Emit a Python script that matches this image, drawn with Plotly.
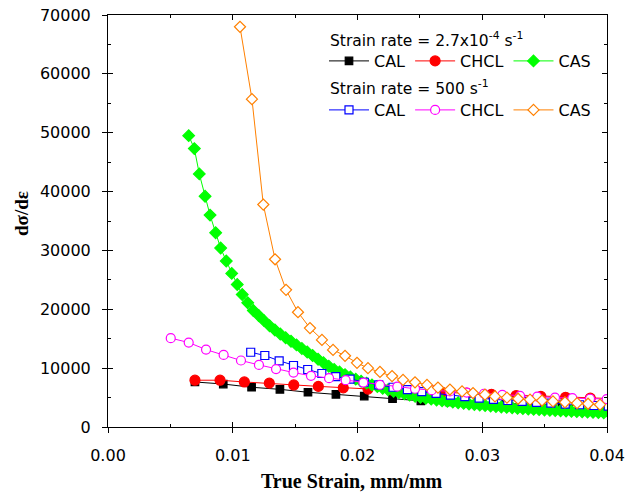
import plotly.graph_objects as go

# ---- Strain rate = 2.7x10^-4 s^-1 ----
cal_qs_strain = [0.00697, 0.00924, 0.01151, 0.01378, 0.01603, 0.01827, 0.02054, 0.02281,
                 0.02508, 0.02735, 0.02962, 0.03189, 0.03416, 0.03643, 0.03870, 0.04097]
cal_qs_modulus = [7650, 7300, 6750, 6400, 5900, 5550, 5250, 4800,
                  4450, 4250, 4100, 4000, 3900, 3750, 3550, 3450]

chcl_qs_strain = [0.00697, 0.00898, 0.01093, 0.01293, 0.01489, 0.01686, 0.01886, 0.02084,
                  0.02282, 0.02480, 0.02678, 0.02876, 0.03074, 0.03272, 0.03470, 0.03668,
                  0.03866, 0.04064]
chcl_qs_modulus = [7950, 7950, 7650, 7450, 7150, 6900, 6650, 6450,
                   6250, 6050, 5900, 5750, 5550, 5350, 5200, 5050,
                   4900, 4800]

cas_qs_strain = [0.00647, 0.00692, 0.00732, 0.00778, 0.00818, 0.00863, 0.00903, 0.00948,
                 0.00992, 0.01036, 0.01076, 0.01120, 0.01165, 0.01208, 0.01251, 0.01295,
                 0.01338, 0.01381, 0.01424, 0.01467, 0.01511, 0.01554, 0.01597, 0.01640,
                 0.01684, 0.01727, 0.01770, 0.01813, 0.01856, 0.01900, 0.01943, 0.01986,
                 0.02029, 0.02073, 0.02116, 0.02159, 0.02202, 0.02245, 0.02289, 0.02332,
                 0.02375, 0.02418, 0.02462, 0.02505, 0.02548, 0.02591, 0.02634, 0.02678,
                 0.02721, 0.02764, 0.02807, 0.02851, 0.02894, 0.02937, 0.02980, 0.03023,
                 0.03067, 0.03110, 0.03153, 0.03196, 0.03240, 0.03283, 0.03326, 0.03369,
                 0.03412, 0.03456, 0.03499, 0.03542, 0.03585, 0.03628, 0.03672, 0.03715,
                 0.03758, 0.03801, 0.03844, 0.03888, 0.03931, 0.03974, 0.04017]
cas_qs_modulus = [49500, 47300, 43000, 39200, 36000, 33000, 30400, 28200,
                  26100, 24200, 22500, 21100, 19800, 18940, 18070, 17200,
                  16490, 15800, 15160, 14560, 13950, 13340, 12740, 12140,
                  11520, 10920, 10320, 9770, 9340, 8900, 8510, 8130,
                  7780, 7450, 7150, 6870, 6590, 6330, 6070, 5840,
                  5630, 5420, 5220, 5030, 4880, 4730, 4600, 4470,
                  4350, 4240, 4130, 4020, 3920, 3830, 3740, 3650,
                  3570, 3480, 3400, 3330, 3260, 3190, 3120, 3060,
                  3010, 2950, 2900, 2850, 2800, 2750, 2710, 2665,
                  2620, 2580, 2540, 2500, 2460, 2420, 2390]

# ---- Strain rate = 500 s^-1 ----
cal_dyn_strain = [0.01144, 0.01257, 0.01372, 0.01487, 0.01601, 0.01714, 0.01826, 0.01940,
                  0.02055, 0.02170, 0.02285, 0.02400, 0.02515, 0.02630, 0.02745, 0.02860,
                  0.02975, 0.03090, 0.03205, 0.03320, 0.03435, 0.03550, 0.03665, 0.03780,
                  0.03895, 0.04010]
cal_dyn_modulus = [12700, 12150, 11250, 10450, 9770, 9090, 8550, 8150,
                   7600, 7150, 6750, 6350, 6000, 5700, 5400, 5150,
                   4900, 4700, 4500, 4350, 4200, 4050, 3900, 3780,
                   3650, 3550]

chcl_dyn_strain = [0.00503, 0.00647, 0.00786, 0.00927, 0.01066, 0.01210, 0.01347, 0.01487,
                   0.01627, 0.01772, 0.01905, 0.02047, 0.02180, 0.02319, 0.02461, 0.02595,
                   0.02741, 0.02875, 0.03014, 0.03161, 0.03303, 0.03441, 0.03583, 0.03722,
                   0.03864, 0.03998]
chcl_dyn_modulus = [15100, 14350, 13150, 12250, 11300, 10550, 9850, 9250,
                    8700, 8300, 7950, 7550, 7150, 6850, 6500, 6250,
                    6050, 5850, 5650, 5450, 5300, 5150, 5000, 4900,
                    4800, 4750]

cas_dyn_strain = [0.01058, 0.01154, 0.01245, 0.01339, 0.01427, 0.01523, 0.01619, 0.01715,
                  0.01804, 0.01900, 0.01996, 0.02084, 0.02180, 0.02277, 0.02365, 0.02461,
                  0.02557, 0.02645, 0.02741, 0.02838, 0.02926, 0.03022, 0.03102, 0.03198,
                  0.03287, 0.03383, 0.03479, 0.03567, 0.03663, 0.03760, 0.03848, 0.03944]
cas_dyn_modulus = [68000, 55700, 37800, 28500, 23300, 19500, 16800, 14800,
                   13100, 12100, 10900, 10000, 9350, 8650, 8000, 7600,
                   7150, 6700, 6370, 6050, 5770, 5500, 5200, 4980,
                   4800, 4650, 4500, 4350, 4200, 4050, 3950, 3800]

x_tickvals = [0.00, 0.01, 0.02, 0.03, 0.04]
y_tickvals = [0, 10000, 20000, 30000, 40000, 50000, 60000, 70000]

header_qs = "Strain rate = 2.7x10<sup>-4</sup> s<sup>-1</sup>"
header_dyn = "Strain rate = 500 s<sup>-1</sup>"

TICK_FONT = dict(family="DejaVu Sans", size=16, color="black")
LEGEND_FONT = dict(family="DejaVu Sans", size=16, color="black")
SERIF_BOLD = "Liberation Serif"

# plot-area geometry in pixels (used to place paper-referenced text)
PLOT_L, PLOT_R, PLOT_T, PLOT_B = 108, 607, 15, 427


def px_x(px):
    return (px - PLOT_L) / (PLOT_R - PLOT_L)


def px_y(py):
    return (PLOT_B - py) / (PLOT_B - PLOT_T)


fig = go.Figure()


def add_series(name, x, y, color, symbol, size, fill, legend):
    fig.add_trace(go.Scatter(
        x=x, y=y, name=name, mode="lines+markers", legend=legend,
        line=dict(color=color, width=1),
        marker=dict(symbol=symbol, size=size, color=fill,
                    line=dict(color=color, width=1.2)),
    ))


add_series("CAL", cal_qs_strain, cal_qs_modulus, "#000000", "square", 7.5, "#000000", "legend")
add_series("CHCL", chcl_qs_strain, chcl_qs_modulus, "#FF0000", "circle", 10, "#FF0000", "legend")
add_series("CAS", cas_qs_strain, cas_qs_modulus, "#00FF00", "diamond", 9, "#00FF00", "legend")
add_series("CAL", cal_dyn_strain, cal_dyn_modulus, "#0000FF", "square", 8, "#FFFFFF", "legend2")
add_series("CHCL", chcl_dyn_strain, chcl_dyn_modulus, "#FF00FF", "circle", 9, "#FFFFFF", "legend2")
add_series("CAS", cas_dyn_strain, cas_dyn_modulus, "#FF8000", "diamond", 8.5, "#FFFFFF", "legend2")

# empty trace so the overlay axes (outer half of the crossing ticks) get drawn
fig.add_trace(go.Scatter(x=[], y=[], xaxis="x2", yaxis="y2", showlegend=False, hoverinfo="skip"))

axis_common = dict(showgrid=False, zeroline=False, tickcolor="black", tickwidth=1)

legend_common = dict(orientation="h", xanchor="left", yanchor="top",
                     bgcolor="rgba(0,0,0,0)", borderwidth=0, itemwidth=40,
                     font=LEGEND_FONT)

fig.update_layout(
    width=625, height=497,
    margin=dict(l=PLOT_L, r=625 - PLOT_R, t=PLOT_T, b=497 - PLOT_B, autoexpand=False),
    paper_bgcolor="white", plot_bgcolor="white",
    xaxis=dict(range=[0, 0.04], tickvals=x_tickvals, tickformat=".2f",
               ticks="inside", ticklen=5, mirror="allticks", showline=True,
               linecolor="black", linewidth=1,
               minor=dict(dtick=0.005, ticks="inside", ticklen=3, tickcolor="black"),
               tickfont=TICK_FONT, ticklabelstandoff=14, **axis_common),
    yaxis=dict(range=[0, 70000], tickvals=y_tickvals, tickformat="d",
               ticks="inside", ticklen=5, mirror="allticks", showline=True,
               linecolor="black", linewidth=1,
               minor=dict(dtick=5000, ticks="inside", ticklen=3, tickcolor="black"),
               tickfont=TICK_FONT, ticklabelstandoff=13, **axis_common),
    xaxis2=dict(range=[0, 0.04], tickvals=x_tickvals, overlaying="x", anchor="y2",
                side="bottom", ticks="outside", ticklen=5, showticklabels=False,
                showline=False, **axis_common),
    yaxis2=dict(range=[0, 70000], tickvals=y_tickvals, overlaying="y", anchor="x2",
                side="left", ticks="outside", ticklen=5, showticklabels=False,
                showline=False, **axis_common),
    legend=dict(x=px_x(324), y=px_y(44), **legend_common),
    legend2=dict(x=px_x(324), y=px_y(93), **legend_common),
    annotations=[
        dict(text=header_qs, xref="paper", yref="paper", x=px_x(328), y=px_y(40),
             xanchor="left", yanchor="middle", showarrow=False,
             font=dict(family="DejaVu Sans", size=15.5, color="black")),
        dict(text=header_dyn, xref="paper", yref="paper", x=px_x(328), y=px_y(87),
             xanchor="left", yanchor="middle", showarrow=False,
             font=dict(family="DejaVu Sans", size=15.5, color="black")),
        dict(text="<b>True Strain, mm/mm</b>", xref="paper", yref="paper",
             x=px_x(352), y=px_y(481), xanchor="center", yanchor="middle",
             showarrow=False, font=dict(family=SERIF_BOLD, size=20, color="black")),
        dict(text="<b>dσ/dε</b>", xref="paper", yref="paper",
             x=px_x(21), y=px_y(214), xanchor="center", yanchor="middle",
             textangle=-90, showarrow=False, font=dict(family=SERIF_BOLD, size=19, color="black")),
    ],
)

fig.write_html("out.html")
